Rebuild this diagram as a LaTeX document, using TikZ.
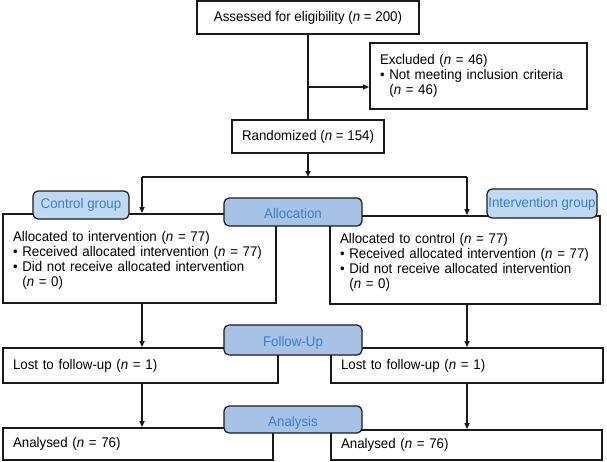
\documentclass[tikz,border=0pt]{standalone}
\usepackage{fontspec}
\setmainfont[FakeStretch=0.95]{Liberation Sans}
\usetikzlibrary{arrows.meta}
\definecolor{tablight}{HTML}{BFD9F2}
\definecolor{tabdark}{HTML}{A8C2E6}
\definecolor{tabtext}{HTML}{3C7DC4}
\definecolor{edge}{HTML}{1A1A1A}
\begin{document}
\begin{tikzpicture}[x=1pt,y=-1pt,
  box/.style={draw=edge, line width=1.8pt, fill=white, rectangle, inner xsep=10pt, inner ysep=0pt,
    font=\fontsize{14}{15}\selectfont},
  lbox/.style={box, align=left},
  cbox/.style={box, align=center},
  tab/.style={draw=edge, line width=1.2pt, rounded corners=5pt, inner sep=1pt, align=center,
    text=tabtext, font=\fontsize{14}{15}\selectfont},
  tablt/.style={tab, fill=tablight},
  tabdk/.style={tab, fill=tabdark, text height=13pt, text depth=0pt},
  conn/.style={draw=edge, line width=1.5pt},
  arr/.style={conn, -{Triangle[length=6pt,width=5pt]}}]
\useasboundingbox (0,0) rectangle (607,461);

% main boxes
\node[cbox, minimum width=222pt, minimum height=33pt] (assess) at (308,17.5)
  {Assessed for eligibility (\textit{n} = 200)};
\node[lbox, minimum width=217pt, minimum height=66pt, text width=197pt] (excl) at (478.5,76)
  {Excluded (\textit{n} = 46)\\
   \textbullet\ Not meeting inclusion criteria\\
   \phantom{\textbullet\ }(\textit{n} = 46)};
\node[cbox, minimum width=152pt, minimum height=33pt] (rand) at (308,136.5)
  {Randomized (\textit{n} = 154)};

\node[lbox, minimum width=273pt, minimum height=89pt, text width=253pt] (lalloc) at (139.5,258.5)
  {\rule{0pt}{14pt}Allocated to intervention (\textit{n} = 77)\\
   \textbullet\ Received allocated intervention (\textit{n} = 77)\\
   \textbullet\ Did not receive allocated intervention\\
   \phantom{\textbullet\ }(\textit{n} = 0)};
\node[lbox, minimum width=270pt, minimum height=88pt, text width=250pt] (ralloc) at (465,260)
  {\rule{0pt}{14pt}Allocated to control (\textit{n} = 77)\\
   \textbullet\ Received allocated intervention (\textit{n} = 77)\\
   \textbullet\ Did not receive allocated intervention\\
   \phantom{\textbullet\ }(\textit{n} = 0)};

\node[lbox, minimum width=275pt, minimum height=35pt, text width=255pt] (llost) at (140.5,365.5)
  {Lost to follow-up (\textit{n} = 1)};
\node[lbox, minimum width=272pt, minimum height=35pt, text width=252pt] (rlost) at (467,365.5)
  {Lost to follow-up (\textit{n} = 1)};

\node[lbox, minimum width=270pt, minimum height=32pt, text width=250pt] (lana) at (138,444)
  {Analysed (\textit{n} = 76)};
\node[lbox, minimum width=271pt, minimum height=30pt, text width=251pt] (rana) at (466.5,445)
  {Analysed (\textit{n} = 76)};

% connectors
\coordinate (branch) at (308,87);
\coordinate (split) at (308,177);
\coordinate (sl) at (142,177);
\coordinate (sr) at (467,177);
\draw[conn] (assess.south) -- (rand.north);
\draw[arr] (branch) -- (branch -| excl.west);
\draw[arr] (rand.south) -- (split);
\draw[conn] (sl) -- (sr);
\draw[arr] (sl) -- (sl |- lalloc.north);
\draw[arr] (sr) -- (sr |- ralloc.north);
\draw[arr] (sl |- lalloc.south) -- (sl |- llost.north);
\draw[arr] (sr |- ralloc.south) -- (sr |- rlost.north);
\draw[arr] (sl |- llost.south) -- (sl |- lana.north);
\draw[arr] (sr |- rlost.south) -- (sr |- rana.north);

% tabs
\node[tablt, minimum width=96pt, minimum height=28pt] (ctrl) at (81,205) {Control group};
\node[tablt, minimum width=110pt, minimum height=29pt] (intv) at (542,203.5) {Intervention group};
\node[tabdk, minimum width=138pt, minimum height=28pt] (alloc) at (293,212) {Allocation};
\node[tabdk, minimum width=138pt, minimum height=30pt] (follow) at (293,340) {Follow-Up};
\node[tabdk, minimum width=138pt, minimum height=27pt] (analysis) at (293,419.5) {Analysis};
\end{tikzpicture}
\end{document}
